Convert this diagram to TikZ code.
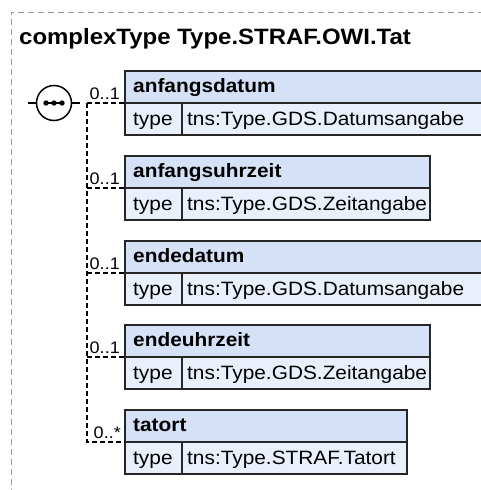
\documentclass[tikz,border=0pt]{standalone}
\usepackage{fontspec}
\setmainfont{Liberation Sans}[FakeStretch=1.08]
\definecolor{hdrblue}{HTML}{D5E1F6}
\definecolor{typblue}{HTML}{EAF0FB}
\begin{document}
\begin{tikzpicture}[x=1pt,y=-1pt,
    box/.style={draw=black!85, line width=1.8pt},
    hdr/.style={box, fill=hdrblue},
    typ/.style={box, fill=typblue},
    conn/.style={black, line width=1.2pt, dash pattern=on 5pt off 3pt},
    frame/.style={black!40, line width=1pt, dash pattern=on 6pt off 4pt},
    txt/.style={anchor=base west, inner sep=0pt, font=\fontsize{19.3}{21}\selectfont},
    mult/.style={anchor=base east, inner sep=0pt, font=\fontsize{16.7}{18}\selectfont}]
    \useasboundingbox[fill=white] (0,0) rectangle (480,490);
    % outer frame
    \draw[frame] (11,495) -- (11,12) -- (486,12);
    \node[txt, font=\bfseries\fontsize{22.2}{24}\selectfont] (title) at (19,44) {complexType Type.STRAF.OWI.Tat};
    % element boxes
    \foreach \y/\name/\type/\r [count=\i] in {71/anfangsdatum/tns:Type.GDS.Datumsangabe/486,
        156/anfangsuhrzeit/tns:Type.GDS.Zeitangabe/430,
        241/endedatum/tns:Type.GDS.Datumsangabe/486,
        325/endeuhrzeit/tns:Type.GDS.Zeitangabe/430,
        410/tatort/tns:Type.STRAF.Tatort/407} {
        \filldraw[hdr] (125,\y) rectangle (\r,\y+32);
        \filldraw[typ] (125,\y+32) rectangle (\r,\y+64);
        \draw[box] (182,\y+32) -- (182,\y+64);
        \node[txt, font=\bfseries\fontsize{19.3}{21}\selectfont] (h\i) at (133,\y+21.5) {\name};
        \node[txt] (t\i) at (133,\y+54) {type};
        \node[txt] (v\i) at (187,\y+54) {\type};
        \coordinate (b\i) at (125,\y+32);
    }
    % multiplicities
    \foreach \i in {1,...,4}
        \node[mult] (m\i) at ([shift={(-5,-4)}]b\i) {0..1};
    \node[mult] (m5) at ([shift={(-4,-4)}]b5) {0..*};
    % sequence symbol
    \node[draw, circle, minimum size=35pt, inner sep=0pt, line width=1.5pt, fill=white] (seq) at (54,103) {};
    \draw[line width=1.4pt] (seq.west) -- ++(-8,0);
    \draw[line width=1.4pt] (seq.east) -- ++(8,0);
    \draw[line width=1.4pt] (46,103) -- (62,103);
    \foreach \x in {46,54,62}
        \fill (\x,103) circle (2.7pt);
    % connectors
    \coordinate (spine) at (87,103);
    \draw[conn] (spine) |- (b5);
    \foreach \i in {1,...,4}
        \draw[conn] (spine |- b\i) -- (b\i);
\end{tikzpicture}
\end{document}
